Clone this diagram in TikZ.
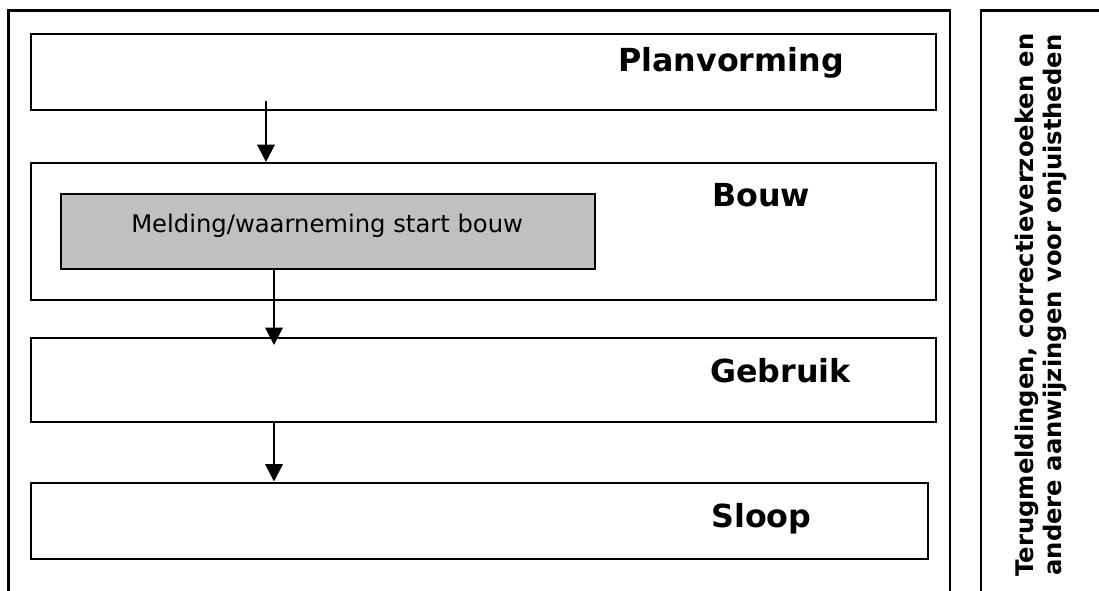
\documentclass[tikz,border=0pt]{standalone}
\usepackage{fontspec}
\setmainfont{DejaVu Sans}
\usetikzlibrary{arrows.meta,fit}
\definecolor{meldgrijs}{RGB}{192,192,192}

\begin{document}
\begin{tikzpicture}[x=0.75pt,y=-0.75pt,
  kader/.style={draw,line width=1.6pt,inner sep=0pt},
  fase/.style={draw,line width=1.5pt,inner sep=0pt},
  kop/.style={anchor=base west,inner sep=0pt,font=\bfseries\fontsize{23.8}{28}\selectfont},
  pijl/.style={line width=1.6pt,-{Triangle[width=13pt,length=13pt]}}]
\useasboundingbox (0,0) rectangle (1099,590);
\clip (0,0) rectangle (1099,590);
\node[kader,fit={(8.5,10.5) (950,620)}] (buiten) {};
\node[kader,fit={(981,10.5) (1130,620)}] (zijkader) {};
\node[fase,fit={(31,33.5) (936,110)}] (plan) {};
\node[fase,fit={(31,163) (936,300)}] (bouw) {};
\node[fase,fill=meldgrijs,fit={(61,194) (595,269)}] (melding) {};
\node[fase,fit={(31,338) (936,421.5)}] (gebruik) {};
\node[fase,fit={(31,482.5) (928,558.5)}] (sloop) {};
\node[kop] (plantekst) at (618,71) {Planvorming};
\node[kop] (bouwtekst) at (712,206) {Bouw};
\node[kop] (gebruiktekst) at (710,382) {Gebruik};
\node[kop] (slooptekst) at (711,527) {Sloop};
\node[anchor=base west,inner sep=0pt,font=\fontsize{18.2}{22}\selectfont] (meldtekst) at (131,232) {Melding/waarneming start bouw};
\node[rotate=90,align=center,inner sep=0pt,font=\bfseries\fontsize{18.2}{20.5}\selectfont] (zijtekst) at (1041,305) {Terugmeldingen, correctieverzoeken en\\andere aanwijzingen voor onjuistheden};
\coordinate (start1) at (266,101);
\coordinate (eind2) at (274,345);
\draw[pijl] (start1) -- (start1 |- bouw.north);
\draw[pijl] (melding.south -| eind2) -- (eind2);
\draw[pijl] (gebruik.south -| eind2) -- (sloop.north -| eind2);
\end{tikzpicture}
\end{document}
